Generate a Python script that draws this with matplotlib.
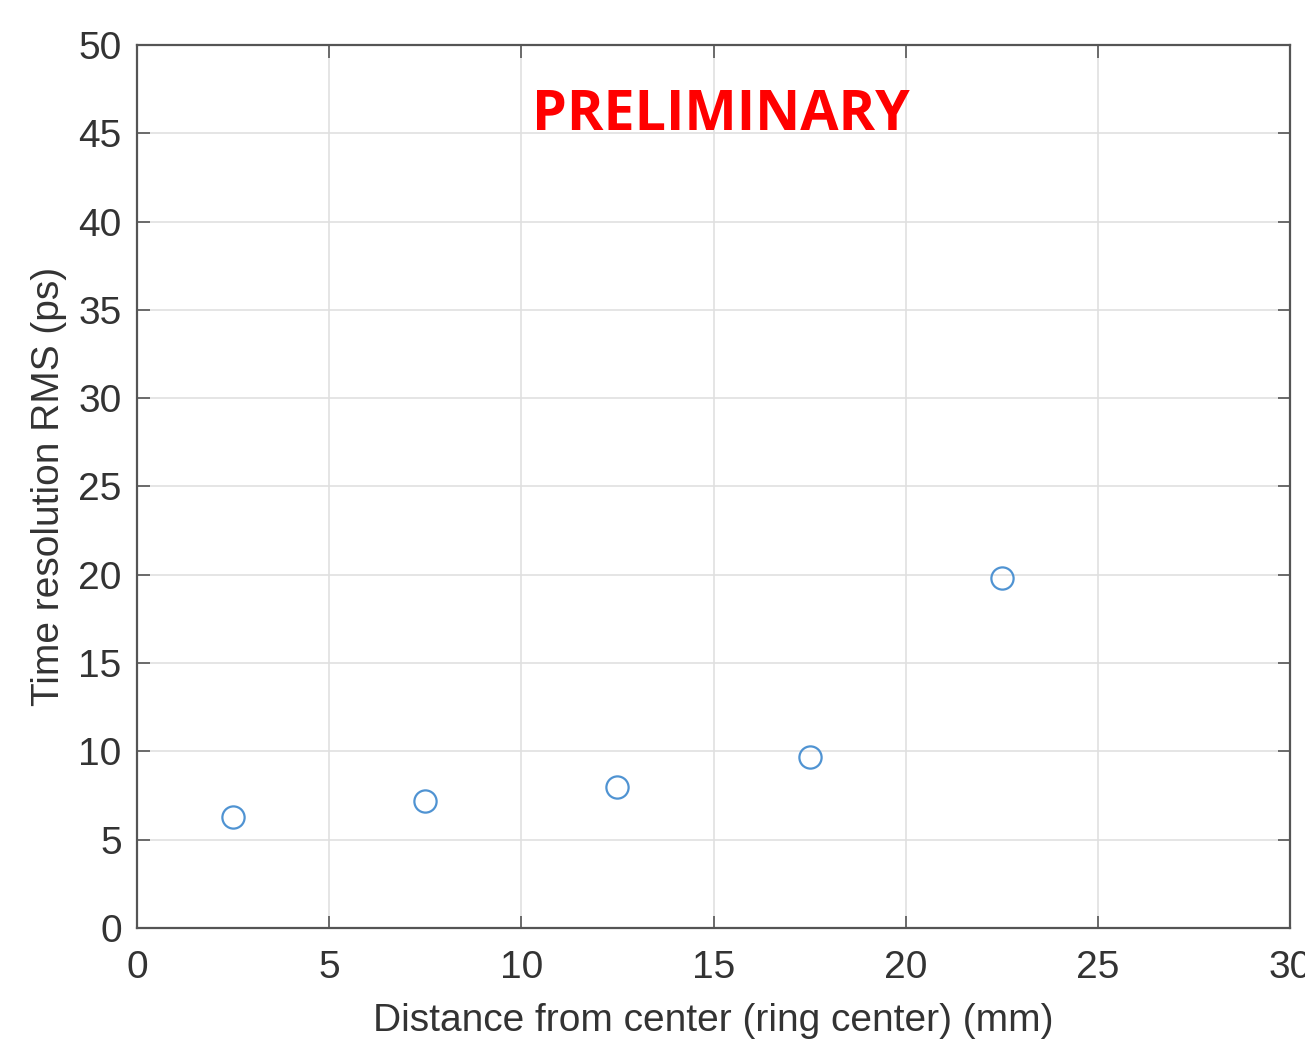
import matplotlib

matplotlib.use('Agg')
import matplotlib.pyplot as plt

# distance from ring center (mm) and time resolution RMS (ps)
distance = [2.5, 7.5, 12.5, 17.5, 22.5]
resolution = [6.3, 7.2, 8.0, 9.7, 19.8]

x_ticks = [0, 5, 10, 15, 20, 25, 30]
y_ticks = [0, 5, 10, 15, 20, 25, 30, 35, 40, 45, 50]


def main():
    plt.rcParams['font.family'] = ['Liberation Sans', 'DejaVu Sans']

    fig = plt.figure(figsize=(13.05, 10.41), dpi=100)
    ax = fig.add_axes([0.105, 0.1086, 0.8835, 0.8482])

    ax.plot(distance, resolution, linestyle='none', marker='o', markersize=16,
            markerfacecolor='none', markeredgecolor='#4f93d2', markeredgewidth=1.6)

    ax.set_xlim(0, 30)
    ax.set_ylim(0, 50)
    ax.set_xticks(x_ticks)
    ax.set_yticks(y_ticks)
    ax.grid(True, color='#e0e0e0', linewidth=1.2)
    ax.set_axisbelow(True)

    ax.tick_params(direction='in', length=9, width=1.2, colors='#555555',
                   labelcolor='#333333', labelsize=28, top=True, right=True)
    ax.tick_params(axis='x', pad=16)
    ax.tick_params(axis='y', pad=11)
    for s in ax.spines.values():
        s.set_color('#555555')
        s.set_linewidth(1.6)

    ax.set_xlabel('Distance from center (ring center) (mm)', fontsize=28, color='#333333', labelpad=12)
    ax.set_ylabel('Time resolution RMS (ps)', fontsize=28, color='#333333', labelpad=8)

    ax.text(15.2, 46.0, 'PRELIMINARY', color='#ff0000', fontsize=40, fontweight='bold',
            family=['Open Sans', 'DejaVu Sans'], ha='center', va='center')

    fig.savefig('out.png', dpi=100)
    plt.close(fig)


if __name__ == "__main__":
    main()
